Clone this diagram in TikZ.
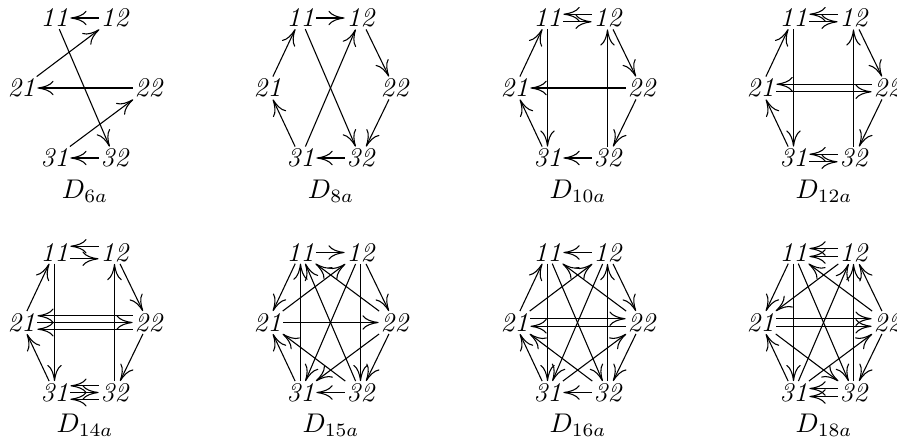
\documentclass[tikz,border=0pt]{standalone}
\usetikzlibrary{arrows.meta,calc}
\tikzset{
  nd/.style={inner sep=0.6pt, font=\itshape},
  ar/.style={draw, line width=0.4pt, -{Computer Modern Rightarrow[length=6pt,width=5.4pt]}},
  lbl/.style={anchor=base, inner sep=0pt},
}
% six vertices of one graph: #1 prefix, #2 centre x, #3 top y, #4 label
\newcommand{\hexgraph}[4]{%
  \node[nd] (#111) at (#2-30.5,#3) {11};
  \node[nd] (#112) at (#2+29.5,#3) {12};
  \node[nd] (#121) at (#2-63.5,#3+70) {21};
  \node[nd] (#122) at (#2+63.5,#3+70) {22};
  \node[nd] (#131) at (#2-30.5,#3+140) {31};
  \node[nd] (#132) at (#2+29.5,#3+140) {32};
  \node[lbl] (#1lab) at (#2,#3+180) {$D_{#4}$};
}
% shifted horizontal arrows: rightwards / leftwards
\newcommand{\arRt}[3]{\draw[ar] ($(#1.east)+(0,#3)$) -- ($(#2.west)+(0,#3)$);}
\newcommand{\arLt}[3]{\draw[ar] ($(#1.west)+(0,#3)$) -- ($(#2.east)+(0,#3)$);}
\begin{document}
\begin{tikzpicture}[x=0.3704pt,y=-0.3704pt]
\useasboundingbox (0,0) rectangle (897,443);
\hexgraph{A}{85}{18}{6a}
\hexgraph{B}{331}{18}{8a}
\hexgraph{C}{578}{18}{10a}
\hexgraph{D}{824}{18}{12a}
\hexgraph{E}{85}{252.5}{14a}
\hexgraph{F}{331}{252.5}{15a}
\hexgraph{G}{578}{252.5}{16a}
\hexgraph{H}{824}{252.5}{18a}
% D6a
\draw[ar] (A12) -- (A11);
\draw[ar] (A21) -- (A12);
\draw[ar] (A11) -- (A32);
\draw[ar] (A22) -- (A21);
\draw[ar] (A31) -- (A22);
\draw[ar] (A32) -- (A31);
% D8a
\draw[ar] (B11) -- (B12);
\draw[ar] (B12) -- (B22);
\draw[ar] (B22) -- (B32);
\draw[ar] (B32) -- (B31);
\draw[ar] (B31) -- (B21);
\draw[ar] (B21) -- (B11);
\draw[ar] (B11) -- (B32);
\draw[ar] (B31) -- (B12);
% D10a
\arLt{C12}{C11}{-3.8}
\arRt{C11}{C12}{3.8}
\draw[ar] (C21) -- (C11);
\draw[ar] (C12) -- (C22);
\draw[ar] (C22) -- (C21);
\draw[ar] (C22) -- (C32);
\draw[ar] (C32) -- (C31);
\draw[ar] (C31) -- (C21);
\draw[ar] (C11) -- (C31);
\draw[ar] (C32) -- (C12);
% D12a
\arLt{D12}{D11}{-3.8}
\arRt{D11}{D12}{3.8}
\draw[ar] (D21) -- (D11);
\draw[ar] (D12) -- (D22);
\arLt{D22}{D21}{-3.8}
\arRt{D21}{D22}{3.8}
\draw[ar] (D22) -- (D32);
\arLt{D32}{D31}{-3.8}
\arRt{D31}{D32}{3.8}
\draw[ar] (D31) -- (D21);
\draw[ar] (D11) -- (D31);
\draw[ar] (D32) -- (D12);
% D14a
\arLt{E12}{E11}{-6.3}
\arRt{E11}{E12}{6.3}
\draw[ar] (E21) -- (E11);
\draw[ar] (E12) -- (E22);
\arLt{E22}{E21}{-6.7}
\arRt{E21}{E22}{0}
\arLt{E22}{E21}{6.7}
\draw[ar] (E22) -- (E32);
\arLt{E32}{E31}{-6.7}
\arRt{E31}{E32}{0}
\arLt{E32}{E31}{6.7}
\draw[ar] (E31) -- (E21);
\draw[ar] (E11) -- (E31);
\draw[ar] (E32) -- (E12);
% D15a
\draw[ar] (F11) -- (F12);
\draw[ar] (F12) -- (F22);
\draw[ar] (F11) -- (F21);
\draw[ar] (F21) -- (F12);
\draw[ar] (F22) -- (F11);
\draw[ar] (F21) -- (F22);
\draw[ar] (F31) -- (F11);
\draw[ar] (F32) -- (F11);
\draw[ar] (F12) -- (F31);
\draw[ar] (F12) -- (F32);
\draw[ar] (F22) -- (F32);
\draw[ar] (F22) -- (F31);
\draw[ar] (F32) -- (F31);
\draw[ar] (F31) -- (F21);
\draw[ar] (F32) -- (F21);
% D16a
\draw[ar] (G12) -- (G11);
\draw[ar] (G21) -- (G11);
\draw[ar] (G12) -- (G22);
\draw[ar] (G21) -- (G12);
\draw[ar] (G22) -- (G11);
\arRt{G21}{G22}{-3.8}
\arLt{G22}{G21}{3.8}
\draw[ar] (G11) -- (G31);
\draw[ar] (G11) -- (G32);
\draw[ar] (G12) -- (G31);
\draw[ar] (G32) -- (G12);
\draw[ar] (G22) -- (G32);
\draw[ar] (G31) -- (G22);
\draw[ar] (G32) -- (G21);
\draw[ar] (G31) -- (G21);
\draw[ar] (G32) -- (G31);
% D18a
\arLt{H12}{H11}{-4}
\arLt{H12}{H11}{4}
\draw[ar] (H11) -- (H21);
\draw[ar] (H12) -- (H21);
\draw[ar] (H22) -- (H11);
\draw[ar] (H11) -- (H31);
\draw[ar] (H11) -- (H32);
\draw[ar] (H31) -- (H12);
\draw[ar] (H32) -- (H12);
\draw[ar] (H22) -- (H12);
\arRt{H21}{H22}{-3.8}
\arRt{H21}{H22}{3.8}
\draw[ar] (H22) -- (H32);
\draw[ar] (H31) -- (H22);
\draw[ar] (H21) -- (H32);
\arLt{H32}{H31}{-4}
\arLt{H32}{H31}{4}
\draw[ar] (H31) -- (H21);
\end{tikzpicture}
\end{document}
